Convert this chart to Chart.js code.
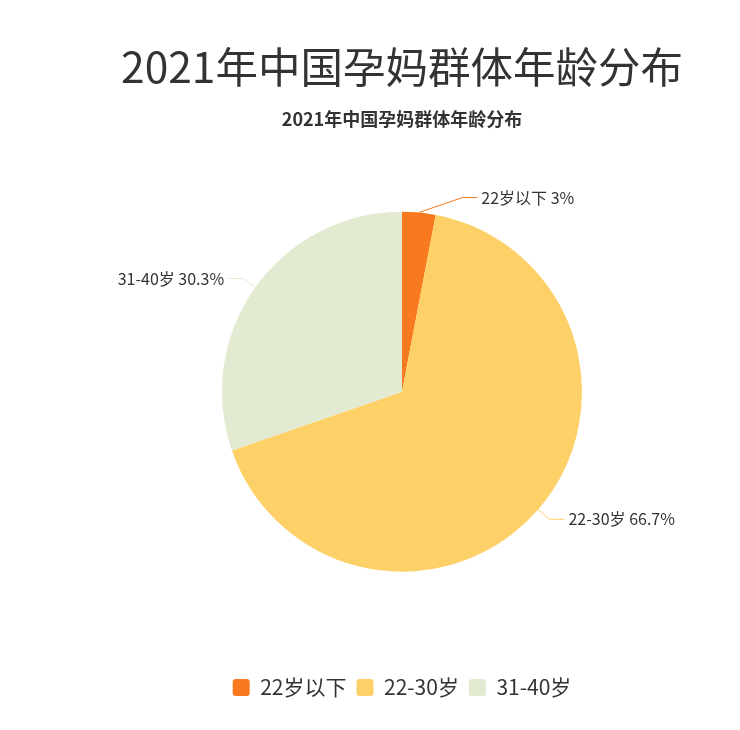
<!DOCTYPE html>
<html>
<head>
<meta charset="utf-8">
<script src="https://cdn.jsdelivr.net/npm/chart.js@4/dist/chart.umd.min.js"></script>
<style>
  html, body { margin: 0; padding: 0; background: #fff; }
  #wrap { width: 740px; height: 730px; position: relative; }
</style>
</head>
<body>
<div id="wrap"><canvas id="ageChart"></canvas></div>
<script>
// ── Data ─────────────────────────────────────────────────────────────────────
const titleText = '2021年中国孕妈群体年龄分布';
const ageGroups = ['22岁以下', '22-30岁', '31-40岁'];
const sharePct = [3, 66.7, 30.3];
const sliceColors = ['#F8791E', '#FDD168', '#E2EBD1'];

const FONT = '"Noto Sans CJK SC", "Noto Sans", sans-serif';

// ── Leader lines + outside labels (echarts-like) ─────────────────────────────
const pieLabels = {
    id: 'pieLabels',
    afterDatasetsDraw(chart, args, opts) {
        const ctx = chart.ctx;
        const meta = chart.getDatasetMeta(0);
        const values = chart.data.datasets[0].data;
        ctx.save();
        ctx.font = `${opts.fontSize}px ${FONT}`;
        ctx.textBaseline = 'middle';
        meta.data.forEach((arc, i) => {
            const p = arc.getProps(['x', 'y', 'startAngle', 'endAngle', 'outerRadius'], true);
            const mid = (p.startAngle + p.endAngle) / 2;
            const cos = Math.cos(mid), sin = Math.sin(mid);
            const side = cos >= 0 ? 1 : -1;
            const x0 = p.x + cos * p.outerRadius;
            const y0 = p.y + sin * p.outerRadius;
            const x1 = p.x + cos * (p.outerRadius + opts.len1) + side * (opts.push[i] || 0);
            const y1 = p.y + sin * (p.outerRadius + opts.len1);
            const x2 = x1 + side * opts.len2;

            ctx.strokeStyle = sliceColors[i];
            ctx.lineWidth = 1;
            ctx.beginPath();
            ctx.moveTo(x0, y0);
            ctx.lineTo(x1, y1);
            ctx.lineTo(x2, y1);
            ctx.stroke();

            ctx.fillStyle = opts.color;
            ctx.textAlign = side > 0 ? 'left' : 'right';
            ctx.fillText(`${chart.data.labels[i]} ${values[i]}%`, x2 + side * 4, y1);
        });
        ctx.restore();
    }
};

// ── Chart ────────────────────────────────────────────────────────────────────
new Chart(document.getElementById('ageChart'), {
    type: 'pie',
    data: {
        labels: ageGroups,
        datasets: [{
            data: sharePct,
            backgroundColor: sliceColors,
            borderWidth: 0,
            radius: 180
        }]
    },
    options: {
        responsive: true,
        maintainAspectRatio: false,
        animation: false,
        layout: { padding: { left: 64, right: 0, top: 0, bottom: 22 } },
        plugins: {
            title: {
                display: true,
                text: titleText,
                color: '#333',
                font: { family: FONT, size: 42.5, weight: 'normal' },
                padding: { top: 41, bottom: 14 }
            },
            subtitle: {
                display: true,
                text: titleText,
                color: '#333',
                font: { family: FONT, size: 18, weight: 'bold' },
                padding: { top: 2, bottom: 10 }
            },
            legend: {
                position: 'bottom',
                title: {
                    display: true,
                    text: ' ',
                    font: { size: 1 },
                    padding: { top: 22, bottom: 0 }
                },
                labels: {
                    color: '#333',
                    font: { family: FONT, size: 21 },
                    boxWidth: 17,
                    boxHeight: 17,
                    useBorderRadius: true,
                    borderRadius: 3,
                    padding: 10
                }
            },
            tooltip: { enabled: false },
            pieLabels: { fontSize: 16, color: '#333', len1: 15, len2: 15, push: [42, 0, 0] }
        }
    },
    plugins: [pieLabels]
});
</script>
</body>
</html>
